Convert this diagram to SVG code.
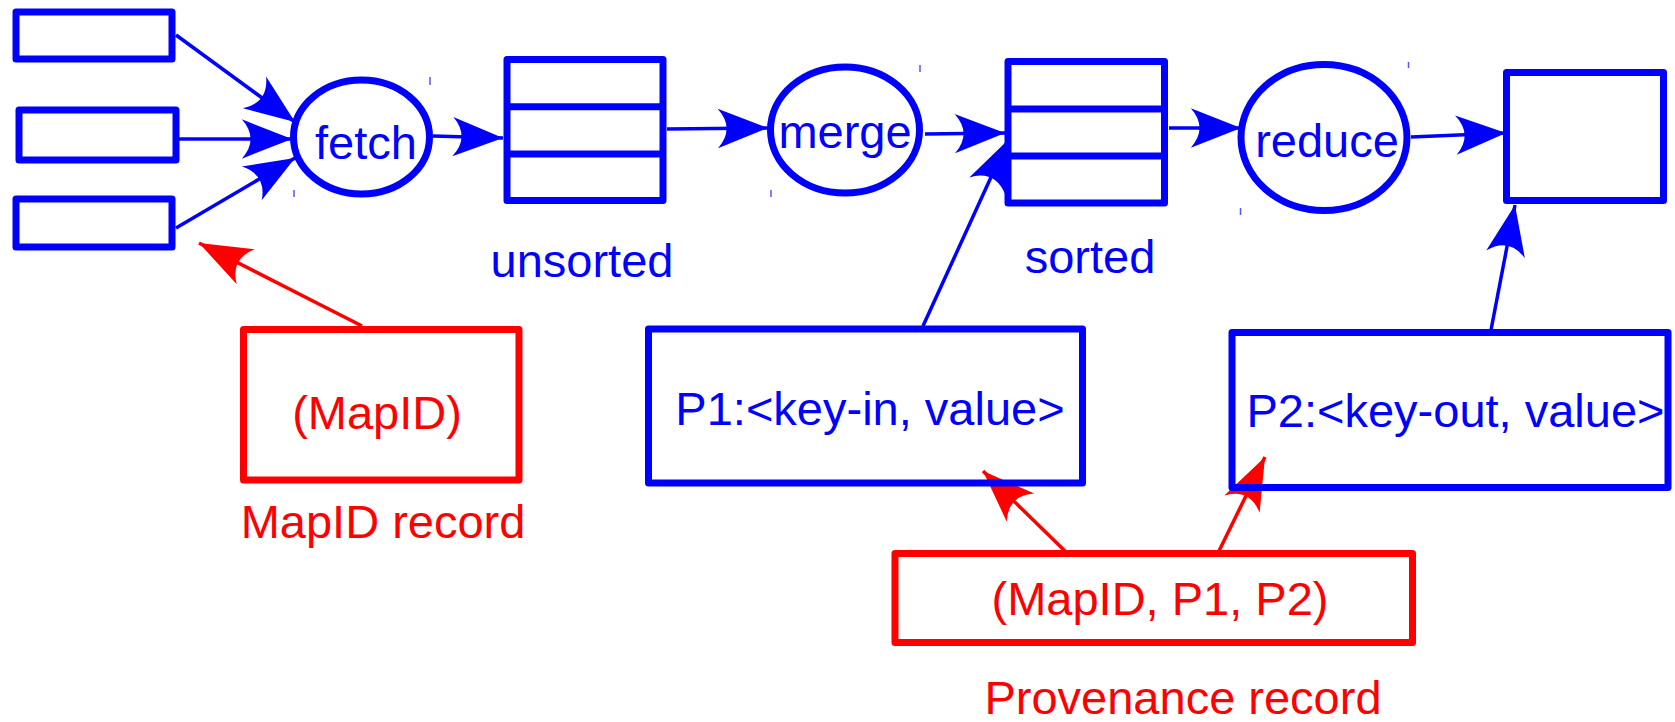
<svg xmlns="http://www.w3.org/2000/svg" width="1675" height="722" viewBox="0 0 1675 722">
<style>
.b{fill:#fff;stroke:#0000ff;stroke-width:7;stroke-linejoin:round}
.r{fill:#fff;stroke:#ff0000;stroke-width:7;stroke-linejoin:round}
.cb{fill:none;stroke:#0000ff;stroke-width:3.5}
.cr{fill:none;stroke:#ff0000;stroke-width:3.5}
.tick{stroke:#5555ff;stroke-width:1.5}
text{font-family:"Liberation Sans",Arial,sans-serif;font-size:47px;text-anchor:middle}
.tb{fill:#0000ff}
.tr{fill:#ff0000}
</style>
<defs>
<marker id="ab" markerUnits="userSpaceOnUse" orient="auto" markerWidth="60" markerHeight="60" refX="0" refY="0" viewBox="-50 -25 55 50" overflow="visible">
<path d="M0,0 L-46,-18 Q-30,0 -46,18 Z" fill="#0000ff"/>
</marker>
<marker id="ar" markerUnits="userSpaceOnUse" orient="auto" markerWidth="60" markerHeight="60" refX="0" refY="0" viewBox="-50 -25 55 50" overflow="visible">
<path d="M0,0 L-48,-18 Q-32,0 -48,18 Z" fill="#ff0000"/>
</marker>
</defs>

<g id="connectors">
<line class="cb" x1="176" y1="35" x2="295" y2="122" marker-end="url(#ab)"/>
<line class="cb" x1="171" y1="139" x2="292" y2="139" marker-end="url(#ab)"/>
<line class="cb" x1="176" y1="228" x2="295" y2="158" marker-end="url(#ab)"/>
<line class="cb" x1="433" y1="136" x2="503" y2="138" marker-end="url(#ab)"/>
<line class="cb" x1="667" y1="129" x2="768" y2="128" marker-end="url(#ab)"/>
<line class="cb" x1="925" y1="134" x2="1005" y2="133" marker-end="url(#ab)"/>
<line class="cb" x1="923" y1="326" x2="1008" y2="140" marker-end="url(#ab)"/>
<line class="cb" x1="1169" y1="128" x2="1241" y2="128" marker-end="url(#ab)"/>
<line class="cb" x1="1411" y1="137" x2="1506" y2="133" marker-end="url(#ab)"/>
<line class="cb" x1="1491" y1="330" x2="1515" y2="205" marker-end="url(#ab)"/>
<line class="cr" x1="362" y1="326" x2="199" y2="243" marker-end="url(#ar)"/>
<line class="cr" x1="1067" y1="553" x2="983" y2="471" marker-end="url(#ar)"/>
<line class="cr" x1="1218" y1="553" x2="1265" y2="457" marker-end="url(#ar)"/>
</g>

<g id="input1"><rect class="b" x="16" y="12" width="156" height="47"/></g>
<g id="input2"><rect class="b" x="19" y="110" width="157" height="50"/></g>
<g id="input3"><rect class="b" x="16" y="199" width="156" height="48"/></g>

<g id="fetch">
<ellipse class="b" cx="361.5" cy="137" rx="68" ry="57" style="fill:none"/>
<text class="tb" x="366" y="159">fetch</text>
</g>

<g id="unsorted">
<rect class="b" x="507" y="59.5" width="156" height="141"/>
<line class="b" x1="507" y1="106.7" x2="663" y2="106.7"/>
<line class="b" x1="507" y1="154" x2="663" y2="154"/>
<text class="tb" x="582" y="277">unsorted</text>
</g>

<g id="merge">
<ellipse class="b" cx="845" cy="130" rx="74.5" ry="63" style="fill:none"/>
<text class="tb" x="845" y="148">merge</text>
</g>

<g id="sorted">
<rect class="b" x="1008" y="61.5" width="156.5" height="141.5"/>
<line class="b" x1="1008" y1="109" x2="1164.5" y2="109"/>
<line class="b" x1="1008" y1="156" x2="1164.5" y2="156"/>
<text class="tb" x="1090" y="273">sorted</text>
</g>

<g id="reduce">
<ellipse class="b" cx="1324" cy="137.5" rx="83" ry="73" style="fill:none"/>
<text class="tb" x="1327" y="157">reduce</text>
</g>

<g id="output">
<rect class="b" x="1506.5" y="72.5" width="157" height="128"/>
</g>

<g id="ticks">
<line class="tick" x1="430" y1="77" x2="430" y2="85"/>
<line class="tick" x1="294" y1="190" x2="294" y2="197"/>
<line class="tick" x1="920" y1="65" x2="920" y2="72"/>
<line class="tick" x1="771" y1="190" x2="771" y2="197"/>
<line class="tick" x1="1408.5" y1="62" x2="1408.5" y2="68"/>
<line class="tick" x1="1240.5" y1="208" x2="1240.5" y2="215"/>
</g>

<g id="p1">
<rect class="b" x="648.5" y="329" width="434" height="154" style="fill:none"/>
<text class="tb" x="870" y="425">P1:&lt;key-in, value&gt;</text>
</g>

<g id="p2">
<rect class="b" x="1232" y="332.5" width="436" height="155" style="fill:none"/>
<text class="tb" x="1455.5" y="427">P2:&lt;key-out, value&gt;</text>
</g>

<g id="mapid">
<rect class="r" x="243.5" y="329.5" width="275.5" height="150.5" style="fill:none"/>
<text class="tr" x="377" y="429">(MapID)</text>
<text class="tr" x="383" y="538">MapID record</text>
</g>

<g id="provenance">
<rect class="r" x="895" y="553.5" width="517.5" height="89" style="fill:none"/>
<text class="tr" x="1160" y="615">(MapID, P1, P2)</text>
<text class="tr" x="1183" y="714">Provenance record</text>
</g>
</svg>
